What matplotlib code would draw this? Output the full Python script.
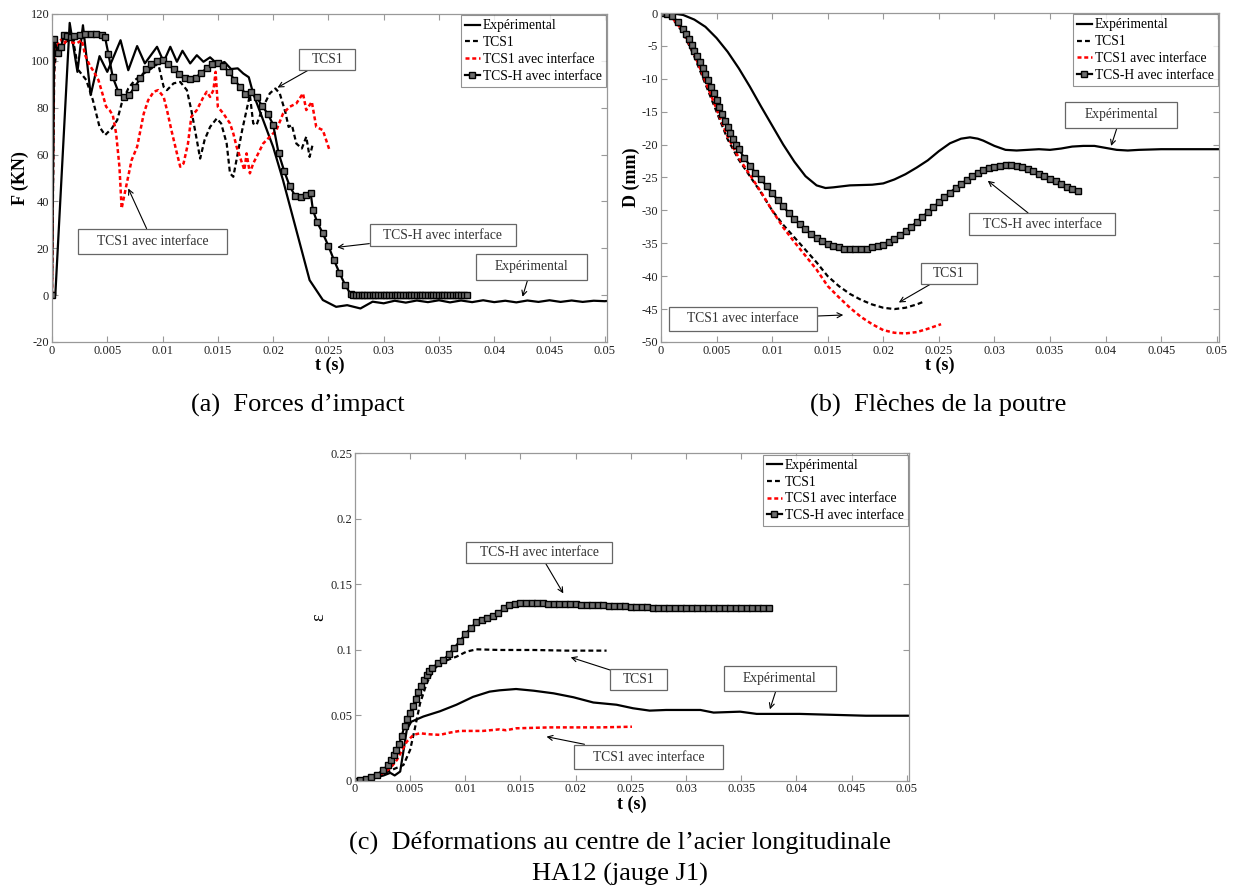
import matplotlib
matplotlib.use("Agg")
from matplotlib import pyplot as plt

plt.rcParams['font.family'] = ['Liberation Serif', 'DejaVu Serif']
plt.rcParams['mathtext.fontset'] = 'stix'

# ---------------- (a) impact forces ----------------
t_exp_a = [0, 0.0003, 0.0016, 0.0023, 0.0028, 0.0035, 0.0043, 0.005, 0.0062, 0.0069,
           0.0077, 0.0084, 0.0095, 0.0101, 0.0107, 0.0113, 0.0118, 0.0125, 0.0131, 0.0137,
           0.0143, 0.015, 0.0156, 0.0162, 0.0168, 0.0173, 0.0178, 0.0182, 0.0191, 0.02,
           0.0209, 0.0221, 0.0233, 0.0245, 0.0257, 0.0267, 0.0279, 0.029, 0.030, 0.031,
           0.032, 0.033, 0.034, 0.035, 0.036, 0.037, 0.038, 0.039, 0.040, 0.041,
           0.042, 0.043, 0.044, 0.045, 0.046, 0.047, 0.048, 0.049, 0.050, 0.0502]
f_exp_a = [0, 0, 116.2, 95.3, 115.2, 85.4, 102, 95.3, 108.8, 96,
           106.3, 98.9, 106, 99.6, 106, 99.6, 104.3, 98.9, 102.4, 99.6,
           101.5, 98.5, 99.5, 96.5, 96.8, 94.6, 93.0, 86, 74.7, 63.3,
           49, 27.7, 6.4, -2.1, -5, -4.3, -5.7, -2.8, -3.5, -2.4,
           -3.2, -2.3, -3.0, -2.2, -3.1, -2.3, -3.0, -2.2, -3.0, -2.4,
           -3.1, -2.3, -2.9, -2.2, -2.9, -2.3, -2.9, -2.4, -2.6, -2.5]

t_tcs1_a = [0, 0.0002, 0.0004, 0.0008, 0.0012, 0.0016, 0.0019, 0.0024, 0.0031, 0.0037,
            0.0043, 0.0048, 0.0054, 0.0059, 0.0063, 0.0069, 0.0075, 0.0083, 0.0092, 0.0096,
            0.0101, 0.0104, 0.011, 0.0116, 0.0122, 0.0126, 0.0131, 0.0134, 0.0138, 0.0143,
            0.0149, 0.0153, 0.0158, 0.0161, 0.0164, 0.0167, 0.0172, 0.0176, 0.0179, 0.0182,
            0.0185, 0.0191, 0.0197, 0.0202, 0.0206, 0.0211, 0.0214, 0.0217, 0.0221, 0.0226,
            0.023, 0.0233, 0.0236]
f_tcs1_a = [0, 95, 106, 104, 108, 109, 109, 96, 91.8, 83.2,
            71.8, 68.3, 71.1, 74.7, 81.8, 88.2, 91.8, 94.6, 97.4, 98.9,
            88.9, 87.5, 90.4, 91, 87.5, 79, 66.2, 58.3, 66.2, 71.8,
            75.4, 73.3, 64.7, 52, 50.5, 58, 70.4, 79, 85.4, 73.3,
            72.6, 80.4, 86.1, 88.2, 86.1, 78.2, 71.8, 72.6, 64.7, 62.6,
            67.6, 59, 64.7]

t_int_a = [0, 0.0001, 0.0002, 0.0005, 0.0008, 0.0011, 0.0014, 0.0017, 0.0022, 0.0027,
           0.003, 0.0034, 0.0037, 0.0042, 0.0046, 0.0049, 0.0052, 0.0055, 0.0058, 0.0061,
           0.0063, 0.0067, 0.0072, 0.0077, 0.0083, 0.0087, 0.0092, 0.0096, 0.0101, 0.0104,
           0.0108, 0.0113, 0.0116, 0.0119, 0.0123, 0.0126, 0.0131, 0.0134, 0.0137, 0.014,
           0.0143, 0.0146, 0.0148, 0.015, 0.0155, 0.0161, 0.0164, 0.0167, 0.0171, 0.0174,
           0.0176, 0.0179, 0.0182, 0.0185, 0.0191, 0.0197, 0.0203, 0.0209, 0.0215, 0.0221,
           0.0227, 0.023, 0.0235, 0.0239, 0.0245, 0.0251]
f_int_a = [0, 60, 104, 107, 109, 107, 110, 108, 107.4, 108.8,
           102.4, 98.2, 96, 91.8, 85.4, 80.4, 79, 76.8, 69, 54.8,
           37, 46.2, 57.6, 63.3, 77.5, 83.2, 86.8, 87.5, 84.6, 79,
           70.4, 60.5, 54.8, 56.2, 64.7, 76.1, 79, 81.8, 84.6, 86.8,
           84.6, 87.5, 95.3, 80.4, 77.5, 73.3, 69, 63.3, 57.6, 53.4,
           60.5, 52, 56.2, 59, 64.7, 67.6, 70.4, 77.5, 80.4, 81.8,
           86.1, 79, 82.5, 71.8, 70.4, 61.9]

t_h_a = [0, 0.0002, 0.0005, 0.0008, 0.0011, 0.0014, 0.0017, 0.002, 0.0025, 0.003,
         0.0035, 0.004, 0.0045, 0.0048, 0.0051, 0.0055, 0.006, 0.0065, 0.007, 0.0075,
         0.008, 0.0085, 0.009, 0.0095, 0.01, 0.0105, 0.011, 0.0115, 0.012, 0.0125,
         0.013, 0.0135, 0.014, 0.0145, 0.015, 0.0155, 0.016, 0.0165, 0.017, 0.0175,
         0.018, 0.0185, 0.019, 0.0195, 0.02, 0.0205, 0.021, 0.0215, 0.022, 0.0225,
         0.023, 0.0234, 0.0236, 0.024, 0.0245, 0.025, 0.0255, 0.026, 0.0265, 0.027,
         0.02725, 0.0275, 0.02775, 0.028, 0.02825, 0.0285, 0.02875, 0.029, 0.02925, 0.0295,
         0.02975, 0.030, 0.03025, 0.0305, 0.03075, 0.031, 0.03125, 0.0315, 0.03175, 0.032,
         0.03225, 0.0325, 0.03275, 0.033, 0.03325, 0.0335, 0.03375, 0.034, 0.03425, 0.0345,
         0.03475, 0.035, 0.03525, 0.0355, 0.03575, 0.036, 0.03625, 0.0365, 0.03675, 0.037,
         0.03725, 0.0375]
f_h_a = [0, 109.5, 103.5, 106, 111, 110.5, 110, 110.5, 111, 111.5,
         111.5, 111.5, 111, 110, 103, 93, 86.8, 84.5, 85.5, 89,
         92.5, 96.5, 98.5, 99.8, 100.2, 98.6, 96.6, 94.5, 92.8, 92.3,
         92.8, 95, 96.8, 98.6, 99.2, 97.8, 95.2, 92, 88.9, 86,
         86.6, 84.5, 80.8, 77.5, 72.8, 60.5, 53, 46.5, 42.3, 42,
         42.8, 43.4, 36.3, 31, 26.3, 21, 15, 9.5, 4.5, 0.5,
         0.2, 0, 0, 0, 0, 0, 0, 0, 0, 0,
         0, 0, 0, 0, 0, 0, 0, 0, 0, 0,
         0, 0, 0, 0, 0, 0, 0, 0, 0, 0,
         0, 0, 0, 0, 0, 0, 0, 0, 0, 0,
         0, 0]

# ---------------- (b) beam deflection ----------------
t_exp_b = [0, 0.001, 0.002, 0.003, 0.004, 0.005, 0.006, 0.007, 0.008, 0.009,
           0.010, 0.011, 0.012, 0.013, 0.014, 0.0148, 0.0155, 0.017, 0.019, 0.020,
           0.021, 0.022, 0.023, 0.024, 0.025, 0.026, 0.027, 0.0278, 0.0285, 0.029,
           0.030, 0.031, 0.032, 0.033, 0.034, 0.035, 0.036, 0.037, 0.038, 0.039,
           0.040, 0.041, 0.042, 0.043, 0.045, 0.0502]
d_exp_b = [0, -0.05, -0.3, -1.0, -2.1, -3.8, -5.9, -8.4, -11.2, -14.2,
           -17.1, -20.0, -22.6, -24.8, -26.2, -26.6, -26.5, -26.2, -26.1, -25.9,
           -25.3, -24.5, -23.5, -22.4, -21.0, -19.8, -19.1, -18.9, -19.1, -19.4,
           -20.2, -20.8, -20.9, -20.8, -20.7, -20.8, -20.6, -20.3, -20.2, -20.2,
           -20.5, -20.8, -20.9, -20.8, -20.7, -20.7]

t_tcs1_b = [0, 0.001, 0.002, 0.003, 0.004, 0.005, 0.006, 0.007, 0.008, 0.009,
            0.010, 0.011, 0.012, 0.013, 0.014, 0.015, 0.016, 0.017, 0.018, 0.019,
            0.020, 0.021, 0.022, 0.023, 0.0236]
d_tcs1_b = [0, -0.8, -3.0, -6.6, -10.8, -15.0, -19.2, -22.3, -24.8, -27.3,
            -30.0, -32.2, -34.1, -36.0, -37.9, -40.0, -41.5, -42.7, -43.6, -44.3,
            -44.8, -45.0, -44.8, -44.3, -43.9]

t_int_b = [0, 0.001, 0.002, 0.003, 0.004, 0.005, 0.006, 0.007, 0.008, 0.009,
           0.010, 0.011, 0.012, 0.013, 0.014, 0.015, 0.016, 0.017, 0.018, 0.019,
           0.020, 0.021, 0.022, 0.023, 0.024, 0.0252]
d_int_b = [0, -0.7, -2.8, -6.3, -10.4, -14.6, -18.8, -22.0, -24.6, -27.2,
           -30.0, -32.6, -34.8, -36.9, -39.0, -41.5, -43.2, -44.8, -46.2, -47.3,
           -48.2, -48.6, -48.7, -48.5, -48.0, -47.3]

t_h_b = [0, 0.0005, 0.001, 0.0015, 0.002, 0.00225, 0.0025, 0.00275, 0.003, 0.00325,
         0.0035, 0.00375, 0.004, 0.00425, 0.0045, 0.00475, 0.005, 0.00525, 0.0055, 0.00575,
         0.006, 0.00625, 0.0065, 0.00675, 0.007, 0.0075, 0.008, 0.0085, 0.009, 0.0095,
         0.010, 0.0105, 0.011, 0.0115, 0.012, 0.0125, 0.013, 0.0135, 0.014, 0.0145,
         0.015, 0.0155, 0.016, 0.0165, 0.017, 0.0175, 0.018, 0.0185, 0.019, 0.0195,
         0.020, 0.0205, 0.021, 0.0215, 0.022, 0.0225, 0.023, 0.0235, 0.024, 0.0245,
         0.025, 0.0255, 0.026, 0.0265, 0.027, 0.0275, 0.028, 0.0285, 0.029, 0.0295,
         0.030, 0.0305, 0.031, 0.0315, 0.032, 0.0325, 0.033, 0.0335, 0.034, 0.0345,
         0.035, 0.0355, 0.036, 0.0365, 0.037, 0.0375]
d_h_b = [0, -0.1, -0.5, -1.3, -2.5, -3.2, -4.0, -4.8, -5.7, -6.6,
         -7.5, -8.4, -9.3, -10.2, -11.2, -12.2, -13.2, -14.3, -15.4, -16.4,
         -17.4, -18.3, -19.2, -20.0, -20.7, -22.0, -23.2, -24.3, -25.3, -26.3,
         -27.4, -28.4, -29.4, -30.4, -31.3, -32.1, -32.9, -33.6, -34.2, -34.7,
         -35.1, -35.4, -35.6, -35.8, -35.9, -35.9, -35.9, -35.8, -35.6, -35.4,
         -35.2, -34.8, -34.3, -33.8, -33.2, -32.5, -31.8, -31.0, -30.3, -29.5,
         -28.8, -28.0, -27.3, -26.6, -26.0, -25.4, -24.8, -24.3, -23.9, -23.6,
         -23.4, -23.2, -23.1, -23.1, -23.2, -23.4, -23.7, -24.0, -24.4, -24.8,
         -25.2, -25.6, -26.0, -26.4, -26.8, -27.1]

# ---------------- (c) steel strain ----------------
t_exp_c = [0, 0.0011, 0.0026, 0.0032, 0.0036, 0.0041, 0.0044, 0.0047, 0.0051, 0.0062,
           0.0077, 0.0092, 0.0107, 0.0122, 0.0131, 0.0146, 0.0162, 0.018, 0.0198, 0.0216,
           0.0237, 0.0252, 0.0267, 0.0282, 0.0313, 0.0325, 0.0349, 0.0364, 0.0403, 0.0463,
           0.0502]
e_exp_c = [0, 0.001, 0.004, 0.006, 0.004, 0.007, 0.023, 0.039, 0.045, 0.049,
           0.053, 0.058, 0.064, 0.068, 0.069, 0.070, 0.0687, 0.0667, 0.0637, 0.0597,
           0.058, 0.0553, 0.0535, 0.054, 0.054, 0.052, 0.0527, 0.051, 0.051, 0.0496,
           0.0496]

t_tcs1_c = [0, 0.001, 0.002, 0.003, 0.0037, 0.0044, 0.005, 0.0054, 0.0059, 0.0065,
            0.0071, 0.0077, 0.0085, 0.0092, 0.0101, 0.011, 0.0131, 0.0162, 0.0192, 0.0228]
e_tcs1_c = [0, 0.0012, 0.0035, 0.007, 0.0095, 0.012, 0.0235, 0.0387, 0.059, 0.0743,
            0.0845, 0.0896, 0.0925, 0.0947, 0.0985, 0.1003, 0.0998, 0.0998, 0.0993, 0.0993]

t_int_c = [0, 0.001, 0.002, 0.0032, 0.0038, 0.0042, 0.0047, 0.0053, 0.0059, 0.0068,
           0.0077, 0.0086, 0.0095, 0.0116, 0.0131, 0.0137, 0.0146, 0.0177, 0.0222, 0.0251]
e_int_c = [0, 0.0012, 0.003, 0.0095, 0.0158, 0.0221, 0.0298, 0.035, 0.0362, 0.0354,
           0.035, 0.0367, 0.038, 0.038, 0.0392, 0.0385, 0.040, 0.0407, 0.0407, 0.0412]

t_h_c = [0, 0.0005, 0.001, 0.0015, 0.002, 0.0025, 0.003, 0.00325, 0.0035, 0.00375,
         0.004, 0.00425, 0.0045, 0.00475, 0.005, 0.00525, 0.0055, 0.00575, 0.006, 0.00625,
         0.0065, 0.00675, 0.007, 0.0075, 0.008, 0.0085, 0.009, 0.0095,
         0.010, 0.0105, 0.011, 0.0115, 0.012, 0.0125, 0.013, 0.0135, 0.014, 0.0145,
         0.015, 0.0155, 0.016, 0.0165, 0.017, 0.0175, 0.018, 0.0185, 0.019, 0.0195,
         0.020, 0.0205, 0.021, 0.0215, 0.022, 0.0225, 0.023, 0.0235, 0.024, 0.0245,
         0.025, 0.0255, 0.026, 0.0265, 0.027, 0.0275, 0.028, 0.0285, 0.029, 0.0295,
         0.030, 0.0305, 0.031, 0.0315, 0.032, 0.0325, 0.033, 0.0335, 0.034, 0.0345,
         0.035, 0.0355, 0.036, 0.0365, 0.037, 0.0375]
e_h_c = [0, 0.0005, 0.0014, 0.0027, 0.0046, 0.0078, 0.0120, 0.0155, 0.0195, 0.0237,
         0.0280, 0.0345, 0.0420, 0.0470, 0.0514, 0.0570, 0.0625, 0.0677, 0.0725, 0.0770,
         0.0810, 0.0838, 0.0860, 0.0895, 0.0920, 0.0965, 0.1015, 0.1065,
         0.1120, 0.1165, 0.1210, 0.1228, 0.1240, 0.1255, 0.1280, 0.1315, 0.1340, 0.1352,
         0.1355, 0.1355, 0.1355, 0.1354, 0.1353, 0.1352, 0.1351, 0.1350, 0.1349, 0.1348,
         0.1347, 0.1345, 0.1344, 0.1342, 0.1340, 0.1338, 0.1336, 0.1334, 0.1332, 0.1330,
         0.1329, 0.1327, 0.1325, 0.1323, 0.1321, 0.1319, 0.1317, 0.1316, 0.1316, 0.1317,
         0.1318, 0.1319, 0.1320, 0.1320, 0.1320, 0.1320, 0.1320, 0.1320, 0.1320, 0.1320,
         0.1320, 0.1320, 0.1320, 0.1320, 0.1320, 0.1320]

labels = ["Expérimental", "TCS1", "TCS1 avec interface", "TCS-H avec interface"]
x_ticks = [0, 0.005, 0.01, 0.015, 0.02, 0.025, 0.03, 0.035, 0.04, 0.045, 0.05]
x_ticklabels = ["0", "0.005", "0.01", "0.015", "0.02", "0.025", "0.03", "0.035", "0.04", "0.045", "0.05"]

GRAY = '#999999'
FS = 9.8


def draw(ax, exp, tcs1, inter, tcsh):
    ax.plot(*exp, color='k', lw=1.6, label=labels[0])
    ax.plot(*tcs1, color='k', lw=1.6, ls=(0, (2.2, 1.4)), label=labels[1])
    ax.plot(*inter, color='#ff0000', lw=1.8, ls=(0, (1.6, 1.1)), label=labels[2])
    ax.plot(*tcsh, color='k', lw=1.6, marker='s', ms=4.0, mfc='#6e6e6e',
            mec='k', mew=1.0, label=labels[3])
    ax.set_xlim(0, 0.0502)
    ax.set_xticks(x_ticks)
    ax.set_xticklabels(x_ticklabels)
    ax.tick_params(direction='in', top=True, right=True, length=4, width=0.8,
                   color=GRAY, labelsize=9, pad=2, labelcolor='#222222')
    for s in ax.spines.values():
        s.set_color(GRAY)
        s.set_linewidth(0.9)
    ax.set_xlabel("t (s)", fontsize=13, fontweight='bold', labelpad=0)
    leg = ax.legend(loc='upper right', fontsize=FS, frameon=True, fancybox=False,
                    edgecolor='#777777', borderaxespad=0.1, handlelength=1.1,
                    handletextpad=0.2, labelspacing=0.28, borderpad=0.3, numpoints=1)
    leg.get_frame().set_linewidth(0.8)


def box(ax, text, xy, xytext, pad):
    ax.annotate(text, xy=xy, xytext=xytext, fontsize=FS, ha='center', va='center',
                color='#333333',
                bbox=dict(boxstyle='square,pad=%.2f' % pad, fc='white', ec='#666666',
                          lw=0.9, mutation_aspect=0.32),
                arrowprops=dict(arrowstyle='->', color='k', lw=0.8,
                                shrinkA=0, shrinkB=0, mutation_scale=9))


fig = plt.figure(figsize=(12.35, 8.91), dpi=100)

# (a)
ax1 = fig.add_axes([0.0421, 0.6162, 0.4494, 0.3681])
draw(ax1, (t_exp_a, f_exp_a), (t_tcs1_a, f_tcs1_a), (t_int_a, f_int_a), (t_h_a, f_h_a))
ax1.set_ylim(-20, 120)
ax1.set_yticks([-20, 0, 20, 40, 60, 80, 100, 120])
ax1.set_yticklabels(["-20", "0", "20", "40", "60", "80", "100", "120"])
ax1.set_ylabel("F (KN)", fontsize=13, fontweight='bold', labelpad=1)
box(ax1, "TCS1", (0.0204, 88.6), (0.0249, 100.6), 0.9)
box(ax1, "TCS1 avec interface", (0.0069, 45.5), (0.00909, 22.9), 1.35)
box(ax1, "TCS-H avec interface", (0.0258, 20.4), (0.03535, 25.6), 1.0)
box(ax1, "Expérimental", (0.04256, -0.7), (0.04337, 12.0), 1.4)

# (b)
ax2 = fig.add_axes([0.5352, 0.6162, 0.4518, 0.3692])
draw(ax2, (t_exp_b, d_exp_b), (t_tcs1_b, d_tcs1_b), (t_int_b, d_int_b), (t_h_b, d_h_b))
ax2.set_ylim(-50, 0)
ax2.set_yticks([-50, -45, -40, -35, -30, -25, -20, -15, -10, -5, 0])
ax2.set_yticklabels(["-50", "-45", "-40", "-35", "-30", "-25", "-20", "-15", "-10", "-5", "0"])
ax2.set_ylabel("D (mm)", fontsize=13, fontweight='bold', labelpad=1)
box(ax2, "Expérimental", (0.0405, -20.2), (0.0414, -15.5), 1.4)
box(ax2, "TCS-H avec interface", (0.0294, -25.5), (0.0343, -32.1), 1.0)
box(ax2, "TCS1", (0.0214, -44.0), (0.0259, -39.6), 0.9)
box(ax2, "TCS1 avec interface", (0.0164, -45.9), (0.0074, -46.5), 1.35)

# (c)
ax3 = fig.add_axes([0.2874, 0.1238, 0.4486, 0.3675])
draw(ax3, (t_exp_c, e_exp_c), (t_tcs1_c, e_tcs1_c), (t_int_c, e_int_c), (t_h_c, e_h_c))
ax3.set_ylim(0, 0.25)
ax3.set_yticks([0, 0.05, 0.1, 0.15, 0.2, 0.25])
ax3.set_yticklabels(["0", "0.05", "0.1", "0.15", "0.2", "0.25"])
ax3.set_ylabel("ε", fontsize=13, labelpad=2)
box(ax3, "TCS-H avec interface", (0.01888, 0.143), (0.0167, 0.1742), 1.0)
box(ax3, "TCS1", (0.01955, 0.0942), (0.0257, 0.0775), 0.9)
box(ax3, "Expérimental", (0.0376, 0.0545), (0.0385, 0.078), 1.4)
box(ax3, "TCS1 avec interface", (0.01736, 0.0336), (0.0266, 0.018), 1.35)

# captions
fig.text(298 / 1235, 1 - 405 / 891, "(a)  Forces d’impact", fontsize=19,
         ha='center', va='center')
fig.text(938 / 1235, 1 - 405 / 891, "(b)  Flèches de la poutre", fontsize=19,
         ha='center', va='center')
fig.text(620 / 1235, 1 - 843 / 891, "(c)  Déformations au centre de l’acier longitudinale",
         fontsize=19, ha='center', va='center')
fig.text(620 / 1235, 1 - 874 / 891, "HA12 (jauge J1)", fontsize=19,
         ha='center', va='center')

fig.savefig("out.png", dpi=100)
